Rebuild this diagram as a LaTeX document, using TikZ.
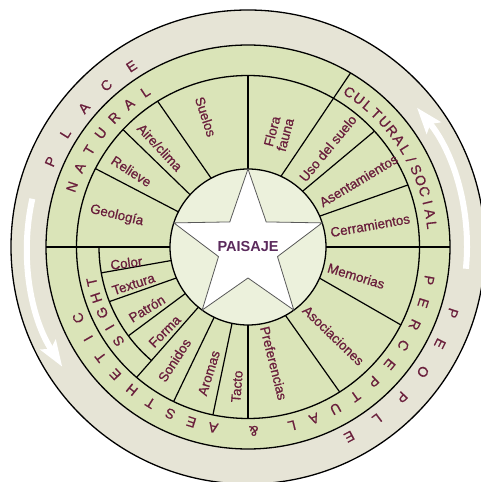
\documentclass[tikz,border=0pt]{standalone}
\usepackage{fontspec}
\setmainfont{Liberation Sans}
\newfontfamily\semibold{Liberation Sans}[FakeBold=0.8]
\usetikzlibrary{arrows.meta}
\definecolor{beige}{HTML}{E6E4D6}
\definecolor{leaf}{HTML}{DAE4B8}
\definecolor{core}{HTML}{ECF1DC}
\definecolor{ink}{HTML}{6A1F3C}
\definecolor{plum}{HTML}{5B2A5C}
\newcommand\slashglyph{/}
\begin{document}
\begin{tikzpicture}[x=1pt,y=1pt,
  item/.style={text=ink, font=\semibold\fontsize{13.4}{13.6}\selectfont, inner sep=0pt, align=center},
  ringletter/.style={text=ink, font=\semibold\fontsize{14}{14}\selectfont, inner sep=0pt},
  sep/.style={line width=1.2pt, draw=black},
  ring/.style={line width=1.3pt, draw=black},
  flow/.style={draw=white, line width=6pt, -{Stealth[length=26pt,width=18pt,inset=5pt]}}]
\useasboundingbox (-248,-235) rectangle (233,247);
\clip (-248,-235) rectangle (233,247);
% discs
\fill[beige] (0,0) circle (237);
\fill[leaf] (0,0) circle (202);
\fill[core] (0,0) circle (78);
% white arrows in the outer ring
\coordinate (ra) at (-5.7:219);
\coordinate (la) at (167.4:221);
\draw[flow] (ra) arc (-5.7:39.5:219);
\draw[flow] (la) arc (167.4:212.8:221);
% circles
\draw[ring] (0,0) circle (237);
\draw[ring] (0,0) circle (202);
\draw[ring] (0,0) circle (171.5);
\draw[ring] (0,0) circle (78);
\draw[ring] (180:149) arc (180:229.8:149);
% radial separators
\draw[sep] (0:78) -- (0:202);
\draw[sep] (180:78) -- (180:202);
\draw[sep] (65:78) -- (59.5:202);
\draw[line width=2pt] (90:78) -- (90:171.5);
\draw[sep] (45.6:78) -- (42.5:171.5);
\draw[sep] (23.3:78) -- (21.2:171.5);
\draw[sep] (-23.5:78) -- (-27:171.5);
\draw[sep] (-61.3:78) -- (-57.7:171.5);
\draw[sep] (270:78) -- (270:171.5);
\draw[sep] (258.2:78) -- (258.2:171.5);
\draw[sep] (244.3:78) -- (244.3:171.5);
\draw[sep] (230.5:78) -- (229.5:171.5);
\draw[sep] (216.6:78) -- (216.6:149);
\draw[sep] (203.4:78) -- (201.5:149);
\draw[sep] (190:78) -- (190:149);
\draw[sep] (153.2:78) -- (152.8:171.5);
\draw[sep] (137.9:78) -- (136.8:171.5);
\draw[sep] (118.2:78) -- (121.8:171.5);
% star
\draw[fill=white, draw=black!65, line width=0.8pt]
  (90:78) -- (126:31) -- (162:78) -- (198:31) -- (234:78) -- (270:31)
  -- (306:78) -- (342:31) -- (18:78) -- (54:31) -- cycle;
\node[text=plum, font=\fontsize{14.5}{14.5}\selectfont\bfseries] (paisaje) at (0,0) {PAISAJE};
% items
\node[item, rotate=-13.5] (geo) at (166.5:135) {Geología};
\node[item, rotate=-33] (rel) at (147:139) {Relieve};
\node[item, rotate=-47] (aire) at (131.5:133) {Aire/clima};
\node[item, rotate=-72] (sue) at (108:137) {Suelos};
\node[item, rotate=75] (flo) at (75:118) {Flora\\fauna};
\node[item, rotate=50.5] (uso) at (51:127) {Uso del suelo};
\node[item, rotate=31] (ase) at (31:129) {Asentamientos};
\node[item, rotate=10] (cer) at (10:124) {Cerramientos};
\node[item, rotate=-17] (mem) at (-15:112) {Memorias};
\node[item, rotate=-44] (aso) at (-46:123) {Asociaciones};
\node[item, rotate=-76] (pre) at (-77.5:119) {Preferencias};
\node[item, rotate=85.5] (tac) at (265.5:140) {Tacto};
\node[item, rotate=72.8] (aro) at (252.8:132) {Aromas};
\node[item, rotate=57] (son) at (237:135) {Sonidos};
\node[item, rotate=45.4] (for) at (225.4:118.6) {Forma};
\node[item, rotate=31.3] (pat) at (211.3:118.4) {Patrón};
\node[item, rotate=18] (tex) at (198:120.4) {Textura};
\node[item, rotate=7.5] (col) at (187.5:122.7) {Color};
% ring lettering
\foreach \a/\l [count=\i] in {161.1/N,154.8/A,148.6/T,142.3/U,136.0/R,129.8/A,123.5/L}
  \node[ringletter, rotate=\a-90] (nat\i) at (\a:186) {\l};
\foreach \a/\l [count=\i] in {56.8/C,53.2/U,49.7/L,46.1/T,42.5/U,38.9/R,35.4/A,31.8/L,28.2/\slashglyph,24.7/S,21.1/O,17.5/C,13.9/I,10.4/A,6.8/L}
  \node[ringletter, rotate=\a-90] (cul\i) at (\a:185) {\l};
\foreach \a/\l [count=\i] in {216/S,210.2/I,204.3/G,198.5/H,192.6/T}
  \node[ringletter, rotate=\a-90] (sig\i) at (\a:160) {\l};
\foreach \a/\l [count=\i] in {-10.4/P,-17.7/E,-25.0/R,-32.3/C,-39.6/E,-47.0/P,-54.3/T,-61.6/U,-68.9/A,-76.2/L,-88.2/\&,-100.9/A,-107.95/E,-115.0/S,-122.05/T,-129.1/H,-136.15/E,-143.2/T,-150.25/I,-157.3/C}
  \node[ringletter, rotate=\a-90] (per\i) at (\a:184) {\l};
\foreach \a/\l [count=\i] in {156.6/P,148.15/L,139.7/A,131.25/C,122.8/E}
  \node[ringletter, rotate=\a-90] (pla\i) at (\a:215) {\l};
\foreach \a/\l [count=\i] in {-17.9/P,-26.7/E,-35.5/O,-44.3/P,-53.1/L,-61.9/E}
  \node[ringletter, rotate=\a-90] (peo\i) at (\a:215) {\l};
\end{tikzpicture}
\end{document}
